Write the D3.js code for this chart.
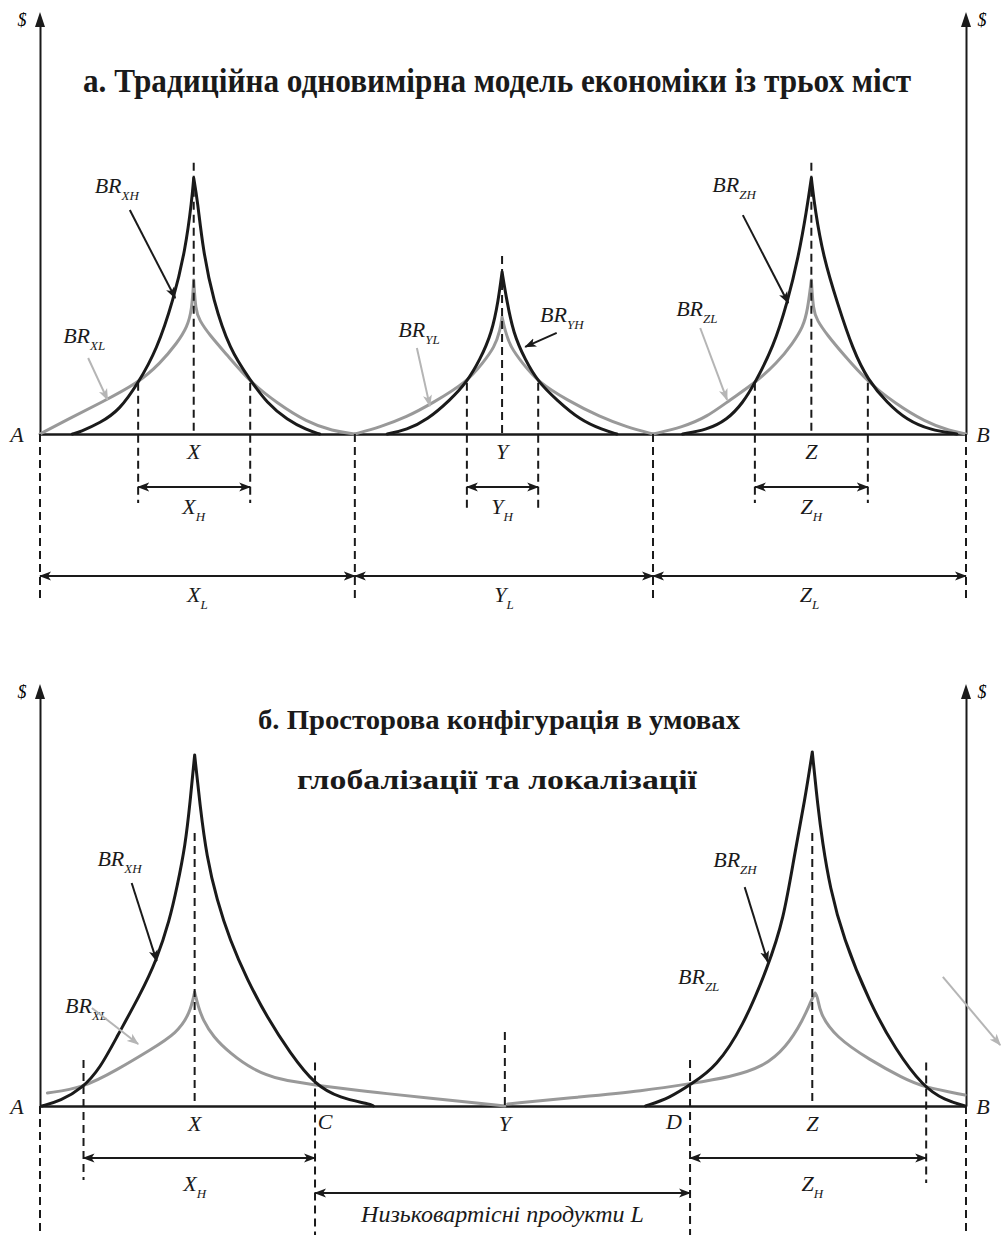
<!DOCTYPE html>
<html><head><meta charset="utf-8">
<script src="https://cdn.jsdelivr.net/npm/d3@7"></script>
<style>body{margin:0;background:#fff}</style>
</head><body>
<svg id="c" width="1003" height="1239"></svg>
<script>
// ================= DATA =================
const titleA = "а. Традиційна одновимірна модель економіки із трьох міст";
const titleB = ["б. Просторова конфігурація в умовах", "глобалізації та локалізації"];
const cityNames = ["X", "Y", "Z"];
// panel a (distance units 0..100 from A to B, $ units)
const cityPosA = [16.6, 49.9, 83.3];
const cityLineTopA = [106, 69.5, 106];
const marketBoundsA = [0, 34.0, 66.2, 100];
const highZoneA = [[10.6, 22.7], [46.1, 53.8], [77.2, 89.4]];
const brXH_A = [[3.5,0],[4.3,0.8],[6.5,4.3],[8.6,9.4],[10.6,19.9],[12.6,32.8],[14.4,52.3],[15.7,71.9],[16.4,91.4],[16.6,100],[17.0,91.4],[17.6,71.9],[18.7,52.3],[20.5,32.8],[22.7,21.1],[24.5,12.1],[26.7,5.5],[28.8,1.6],[30.2,0]];
const brXL_A = [[0,0],[2.9,5.5],[6.5,12.1],[10.6,19.9],[13.0,27.7],[14.8,35.5],[15.9,41.8],[16.4,48.4],[16.6,60.2],[16.8,48.4],[17.2,44.5],[18.3,38.7],[20.2,30.9],[22.7,20.3],[25.6,12.1],[28.8,4.7],[31.6,1.2],[34.0,0]];
const brYH_A = [[37.5,0],[39.6,1.6],[41.8,5.5],[44.3,13.3],[46.1,20.3],[47.5,28.9],[48.8,39.5],[49.5,52.3],[49.9,63.3],[50.4,52.3],[51.1,39.5],[52.4,28.9],[53.8,20.3],[55.8,13.3],[58.3,5.5],[60.8,1.6],[62.3,0]];
const brYL_A = [[34.0,0],[36.7,2.7],[39.6,6.6],[42.4,12.1],[46.1,20.3],[47.8,27.7],[49.1,34.0],[49.7,40.6],[49.9,45.7],[50.2,40.6],[50.8,34.0],[52.1,27.7],[53.8,20.3],[56.9,13.3],[60.5,6.6],[63.4,2.7],[66.2,0]];
const brZH_A = [[69.4,0],[72.0,1.6],[74.2,5.5],[75.9,12.1],[77.2,19.9],[79.2,34.0],[80.7,51.2],[81.9,69.1],[82.8,87.5],[83.3,100],[83.7,87.5],[84.6,69.1],[86.1,51.2],[87.8,32.8],[89.4,21.1],[91.5,12.1],[93.6,5.5],[96.1,1.6],[99.0,0]];
const brZL_A = [[66.2,0],[69.4,2.7],[72.0,6.6],[74.5,13.3],[77.2,19.9],[79.6,27.7],[81.3,35.5],[82.4,41.8],[82.9,48.4],[83.3,60.2],[83.5,48.4],[83.9,44.5],[85.0,38.7],[86.8,30.9],[89.4,20.3],[92.3,12.1],[95.6,4.7],[98.3,1.2],[100,0]];
// panel b
const cityPosB = [16.7, 50.2, 83.4];
const cityLineTopB = [106.6, 28.9, 106.6];
const pointNamesB = ["C", "D"];
const highZoneB = [[4.7, 29.7], [70.2, 95.7]];
const lowZoneB = [29.7, 70.2];
const lowLabelB = "Низьковартісні продукти L";
const brXH_B = [[0.2,0],[2.2,2.0],[4.6,7.0],[6.5,14.8],[8.3,27.0],[10.8,43.4],[12.6,57.0],[14.0,72.7],[14.8,85.5],[15.7,102],[16.2,118.4],[16.7,137.1],[17.3,116.8],[18.0,97.3],[19.1,80.5],[20.5,64.8],[22.4,49.2],[24.5,34.8],[27.0,20.7],[29.7,8.2],[32.4,3.1],[35.6,0.8],[36.0,0]];
const brXL_B = [[0.8,5.1],[4.6,7.0],[8.3,14.1],[11.9,21.9],[14.8,28.5],[16.2,36.3],[16.7,44.5],[17.1,38.7],[17.6,33.6],[18.7,27.0],[20.5,20.7],[23.0,14.1],[25.9,10.2],[29.7,8.2],[33.8,6.3],[36.7,5.1],[44.3,2.3],[50.2,0]];
const brZH_B = [[65.4,0],[68.0,3.1],[70.5,9.0],[73.0,15.2],[75.9,30.9],[78.6,54.3],[80.3,72.7],[81.5,98.8],[82.6,119.5],[83.4,138.3],[84.0,117],[84.5,103],[85.3,85.5],[86.7,66.0],[89.6,40.2],[92.4,21.9],[95.4,7.4],[97.7,2.3],[99.9,0]];
const brZL_B = [[50.5,0.8],[58.2,3.5],[65.1,5.9],[70.4,8.8],[74.5,11.3],[78.1,15.2],[80.6,23.0],[82.4,33.6],[83.3,41.4],[83.7,44.1],[84.0,42.6],[84.2,36.3],[85.9,27.0],[89.6,18.0],[93.2,10.9],[95.4,7.4],[99.9,4.3]];

// ================= LAYOUT / STYLE =================
const BLACK = "#1a1a1a", GRAY = "#999999", LGRAY = "#b5b5b5";
const SERIF = "Liberation Serif, Times New Roman, Times, serif";
const svg = d3.select("#c");
const x = d3.scaleLinear().domain([0, 100]).range([40, 966]);
const yA = d3.scaleLinear().domain([0, 100]).range([434, 178]);
const yB = d3.scaleLinear().domain([0, 100]).range([1106, 850]);

const annotA = [
  {sub:"XH", t:[5.9,94.1], from:[9.7,87.5], to:[14.6,53.1], c:BLACK},
  {sub:"XL", t:[2.5,35.5], from:[5.2,29.7], to:[7.3,13.3], c:LGRAY},
  {sub:"YL", t:[38.7,37.9], from:[40.7,33.6], to:[42.1,10.9], c:LGRAY},
  {sub:"YH", t:[54.0,43.8], from:[55.8,39.5], to:[52.4,34.0], c:BLACK},
  {sub:"ZH", t:[72.6,94.5], from:[75.9,85.5], to:[80.8,51.2], c:BLACK},
  {sub:"ZL", t:[68.7,46.1], from:[71.3,41.4], to:[74.2,13.3], c:LGRAY}
];
const annotB = [
  {sub:"XH", t:[6.2,93.75], from:[9.9,87.1], to:[12.6,56.6], c:BLACK},
  {sub:"XL", t:[2.7,36.3], from:[5.6,38.3], to:[10.6,24.2], c:LGRAY},
  {sub:"ZH", t:[72.7,93.4], from:[76.1,85.5], to:[78.6,56.25], c:BLACK},
  {sub:"ZL", t:[68.9,47.7], from:[97.5,50.4], to:[103.7,23.8], c:LGRAY}
];

// markers
const defs = svg.append("defs");
function mk(id, color){
  defs.append("marker").attr("id", id).attr("viewBox", "0 -5 12 10")
    .attr("refX", 11).attr("refY", 0).attr("markerUnits", "userSpaceOnUse")
    .attr("markerWidth", 12).attr("markerHeight", 10).attr("orient", "auto-start-reverse")
    .append("path").attr("d", "M0,-4.5L12,0L0,4.5L3,0Z").attr("fill", color);
}
mk("ab", BLACK); mk("ag", LGRAY);

function label(g, px, py, main, sub, anchor, size, subSize){
  const t = g.append("text").attr("x", px).attr("y", py)
    .attr("font-family", SERIF).attr("font-style", "italic")
    .attr("font-size", size || 22).attr("fill", BLACK)
    .attr("text-anchor", anchor || "start");
  t.append("tspan").text(main);
  if (sub) t.append("tspan").attr("dy", 7).attr("font-size", subSize || 13).text(sub);
  return t;
}

function curve(g, y, pts, color){
  const i = d3.maxIndex(pts, d => d[1]);
  const line = d3.line().x(d => x(d[0])).y(d => y(d[1])).curve(d3.curveBasis);
  g.append("path").attr("d", line(pts.slice(0, i + 1)) + line(pts.slice(i)))
    .attr("fill", "none").attr("stroke", color).attr("stroke-width", 3)
    .attr("stroke-linecap", "round");
}
function dash(g, xu, y1, y2){
  g.append("line").attr("x1", x(xu)).attr("x2", x(xu)).attr("y1", y1).attr("y2", y2)
    .attr("stroke", BLACK).attr("stroke-width", 2).attr("stroke-dasharray", "8,5");
}
function dim(g, a, b, py){
  g.append("line").attr("x1", x(a)).attr("x2", x(b)).attr("y1", py).attr("y2", py)
    .attr("stroke", BLACK).attr("stroke-width", 2)
    .attr("marker-start", "url(#ab)").attr("marker-end", "url(#ab)");
}
function axes(g, y, tip){
  g.append("g").attr("transform", `translate(0,${y(0)})`)
    .call(d3.axisBottom(x).tickValues([]).tickSizeOuter(0))
    .call(s => s.select(".domain").attr("stroke", BLACK).attr("stroke-width", 2.5));
  const yAx = d3.scaleLinear().domain([0, 1]).range([y(0), tip + 12]);
  [0, 100].forEach(v => {
    g.append("g").attr("transform", `translate(${x(v)},0)`)
      .call(d3.axisLeft(yAx).tickValues([]).tickSizeOuter(0))
      .call(s => s.select(".domain").attr("stroke", BLACK).attr("stroke-width", 2));
    g.append("path").attr("d", `M${x(v)},${tip}L${x(v) - 5},${tip + 15}L${x(v) + 5},${tip + 15}Z`).attr("fill", BLACK);
  });
  g.append("text").attr("x", x(0) - 18).attr("y", tip + 14).attr("font-family", SERIF)
    .attr("font-style", "italic").attr("font-size", 18).attr("text-anchor", "middle").text("$");
  g.append("text").attr("x", x(100) + 16).attr("y", tip + 14).attr("font-family", SERIF)
    .attr("font-style", "italic").attr("font-size", 18).attr("text-anchor", "middle").text("$");
  label(g, x(0) - 23, y(0) + 8, "A", null, "middle");
  label(g, x(100) + 17, y(0) + 8, "B", null, "middle");
}
function annots(g, y, list){
  list.forEach(a => {
    label(g, x(a.t[0]), y(a.t[1]), "BR", a.sub, "start", 22, 13);
    g.append("line").attr("x1", x(a.from[0])).attr("y1", y(a.from[1]))
      .attr("x2", x(a.to[0])).attr("y2", y(a.to[1]))
      .attr("stroke", a.c).attr("stroke-width", 2)
      .attr("marker-end", a.c === BLACK ? "url(#ab)" : "url(#ag)");
  });
}

// ================= PANEL A =================
const gA = svg.append("g");
gA.append("text").attr("x", 497).attr("y", 92).attr("font-family", SERIF)
  .attr("font-weight", "bold").attr("font-size", 34).attr("text-anchor", "middle")
  .attr("textLength", 828).attr("lengthAdjust", "spacingAndGlyphs").attr("fill", BLACK).text(titleA);
axes(gA, yA, 12);
[brXL_A, brYL_A, brZL_A].forEach(p => curve(gA, yA, p, GRAY));
[brXH_A, brYH_A, brZH_A].forEach(p => curve(gA, yA, p, BLACK));
cityPosA.forEach((c, i) => {
  dash(gA, c, yA(cityLineTopA[i]), yA(0));
  label(gA, x(c), 459, cityNames[i], null, "middle");
});
highZoneA.forEach((z, i) => {
  z.forEach(v => dash(gA, v, yA(20), i === 1 ? 510 : 503));
  dim(gA, z[0], z[1], 487);
  label(gA, x(cityPosA[i]), 514, cityNames[i], "H", "middle");
});
marketBoundsA.forEach(b => dash(gA, b, yA(0), 600));
for (let i = 0; i < 3; i++) {
  dim(gA, marketBoundsA[i], marketBoundsA[i + 1], 576);
  label(gA, x((marketBoundsA[i] + marketBoundsA[i + 1]) / 2), 602, cityNames[i], "L", "middle");
}
annots(gA, yA, annotA);

// ================= PANEL B =================
const gB = svg.append("g");
gB.append("text").attr("x", 499).attr("y", 729).attr("font-family", SERIF)
  .attr("font-weight", "bold").attr("font-size", 27).attr("text-anchor", "middle")
  .attr("textLength", 482).attr("lengthAdjust", "spacingAndGlyphs").attr("fill", BLACK).text(titleB[0]);
gB.append("text").attr("x", 497).attr("y", 789).attr("font-family", SERIF)
  .attr("font-weight", "bold").attr("font-size", 27).attr("text-anchor", "middle")
  .attr("textLength", 400).attr("lengthAdjust", "spacingAndGlyphs").attr("fill", BLACK).text(titleB[1]);
axes(gB, yB, 684);
[brXL_B, brZL_B].forEach(p => curve(gB, yB, p, GRAY));
[brXH_B, brZH_B].forEach(p => curve(gB, yB, p, BLACK));
cityPosB.forEach((c, i) => {
  dash(gB, c, yB(cityLineTopB[i]), yB(0));
  label(gB, x(c), 1131, cityNames[i], null, "middle");
});
highZoneB.forEach((z, i) => {
  dash(gB, z[0], yB(18), i === 0 ? 1180 : 1235);
  dash(gB, z[1], yB(17), i === 0 ? 1235 : 1183);
  dim(gB, z[0], z[1], 1158);
  label(gB, x(cityPosB[i * 2]), 1191, cityNames[i * 2], "H", "middle");
});
[0, 100].forEach(b => dash(gB, b, yB(0), 1235));
label(gB, x(lowZoneB[0]) + 10, 1129, pointNamesB[0], null, "middle");
label(gB, x(lowZoneB[1]) - 16, 1129, pointNamesB[1], null, "middle");
dim(gB, lowZoneB[0], lowZoneB[1], 1193);
label(gB, x((lowZoneB[0] + lowZoneB[1]) / 2), 1222, lowLabelB, null, "middle", 24);
annots(gB, yB, annotB);
</script>
</body></html>
